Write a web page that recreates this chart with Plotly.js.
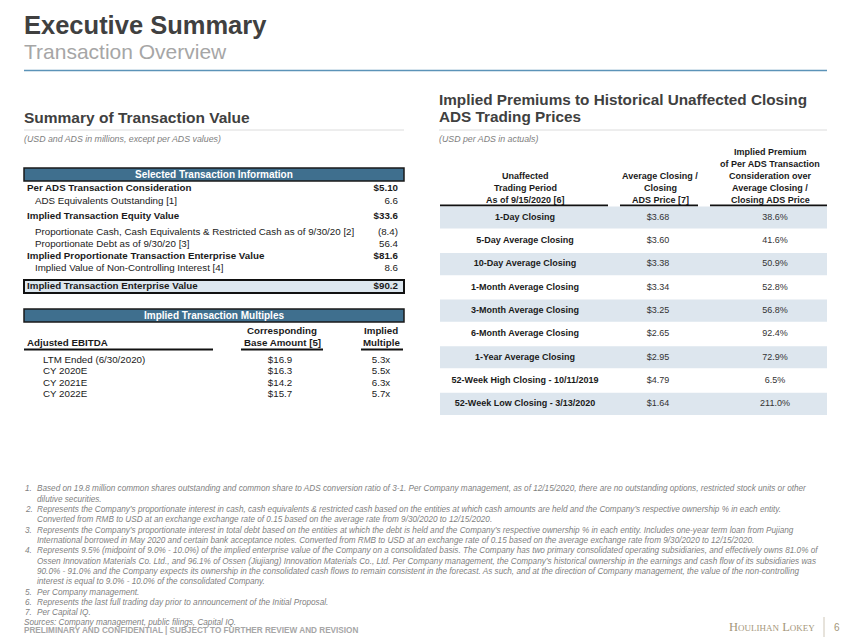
<!DOCTYPE html>
<html>
<head>
<meta charset="utf-8">
<script src="https://cdn.plot.ly/plotly-3.0.1.min.js"></script>
<style>body{margin:0;background:#fff}</style>
</head>
<body>
<div id="plot" style="width:850px;height:638px"></div>
<script>
// summary of transaction value (last row is the boxed total)
let txnLabels = [
    'Per ADS Transaction Consideration',
    'ADS Equivalents Outstanding [1]',
    'Implied Transaction Equity Value',
    'Proportionate Cash, Cash Equivalents & Restricted Cash as of 9/30/20 [2]',
    'Proportionate Debt as of 9/30/20 [3]',
    'Implied Proportionate Transaction Enterprise Value',
    'Implied Value of Non-Controlling Interest [4]',
    'Implied Transaction Enterprise Value'
]
let txnValues = ['$5.10', '6.6', '$33.6', '(8.4)', '56.4', '$81.6', '8.6', '$90.2']
let txnBold = [true, false, true, false, false, true, false, true]

// implied transaction multiples
let multPeriods = ['LTM Ended (6/30/2020)', 'CY 2020E', 'CY 2021E', 'CY 2022E']
let multBase = [16.9, 16.3, 14.2, 15.7] // adjusted EBITDA, $m
let multImplied = [5.3, 5.5, 6.3, 5.7]

// implied premiums to unaffected prices
let premPeriods = [
    '1-Day Closing',
    '5-Day Average Closing',
    '10-Day Average Closing',
    '1-Month Average Closing',
    '3-Month Average Closing',
    '6-Month Average Closing',
    '1-Year Average Closing',
    '52-Week High Closing - 10/11/2019',
    '52-Week Low Closing - 3/13/2020'
]
let premPrice = [3.68, 3.60, 3.38, 3.34, 3.25, 2.65, 2.95, 4.79, 1.64]
let premPct = [38.6, 41.6, 50.9, 52.8, 56.8, 92.4, 72.9, 6.5, 211.0]

let multHeaders = [['Adjusted EBITDA'], ['Corresponding', 'Base Amount [5]'], ['Implied', 'Multiple']]
let premHeaders = [
    ['Unaffected', 'Trading Period', 'As of 9/15/2020 [6]'],
    ['Average Closing /', 'Closing', 'ADS Price [7]'],
    ['Implied Premium', 'of Per ADS Transaction', 'Consideration over', 'Average Closing /', 'Closing ADS Price']
]

let notes = [
    ['1.', 'Based on 19.8 million common shares outstanding and common share to ADS conversion ratio of 3-1. Per Company management, as of 12/15/2020, there are no outstanding options, restricted stock units or other'],
    ['', 'dilutive securities.'],
    ['2.', 'Represents the Company\u2019s proportionate interest in cash, cash equivalents & restricted cash based on the entities at which cash amounts are held and the Company\u2019s respective ownership % in each entity.'],
    ['', 'Converted from RMB to USD at an exchange exchange rate of 0.15 based on the average rate from 9/30/2020 to 12/15/2020.'],
    ['3.', 'Represents the Company\u2019s proportionate interest in total debt based on the entities at which the debt is held and the Company\u2019s respective ownership % in each entity. Includes one-year term loan from Pujiang'],
    ['', 'International borrowed in May 2020 and certain bank acceptance notes. Converted from RMB to USD at an exchange rate of 0.15 based on the average exchange rate from 9/30/2020 to 12/15/2020.'],
    ['4.', 'Represents 9.5% (midpoint of 9.0% - 10.0%) of the implied enterprise value of the Company on a consolidated basis. The Company has two primary consolidated operating subsidiaries, and effectively owns 81.0% of'],
    ['', 'Ossen Innovation Materials Co. Ltd., and 96.1% of Ossen (Jiujiang) Innovation Materials Co., Ltd. Per Company management, the Company\u2019s historical ownership in the earnings and cash flow of its subsidiaries was'],
    ['', '90.0% - 91.0% and the Company expects its ownership in the consolidated cash flows to remain consistent in the forecast. As such, and at the direction of Company management, the value of the non-controlling'],
    ['', 'interest is equal to 9.0% - 10.0% of the consolidated Company.'],
    ['5.', 'Per Company management.'],
    ['6.', 'Represents the last full trading day prior to announcement of the Initial Proposal.'],
    ['7.', 'Per Capital IQ.']
]

// page is laid out in pixels, converted to paper fractions
let W = 850, H = 638
let FONT = 'Liberation Sans, Arial, sans-serif'
let INK = '#1a1a1a'
let TABLE_SIZE = 9.75
function px(x) { return x / W }
function py(y) { return 1 - y / H }
function dom(top, bottom) { return [py(bottom), py(top)] }

function bold(s) { return '<b>' + s + '</b>' }

function note(x, y, text, opts) {
    return Object.assign({
        xref: 'paper', yref: 'paper', x: px(x), y: py(y), text: text,
        showarrow: false, xanchor: 'left', yanchor: 'middle',
        font: {family: FONT, size: TABLE_SIZE, color: INK}
    }, opts || {})
}

function hline(x0, x1, y, color, width) {
    return {type: 'line', xref: 'paper', yref: 'paper', x0: px(x0), x1: px(x1), y0: py(y), y1: py(y),
        line: {color: color, width: width}, layer: 'below'}
}

function box(x0, x1, y0, y1, fill, lineColor, width) {
    return {type: 'rect', xref: 'paper', yref: 'paper', x0: px(x0), x1: px(x1), y0: py(y1), y1: py(y0),
        fillcolor: fill, line: {color: lineColor, width: width}, layer: 'below'}
}

function textTrace(yaxis, xs, ys, texts, pos, size, color) {
    return {
        type: 'scatter', mode: 'text', xaxis: 'x', yaxis: yaxis,
        x: xs, y: ys, text: texts, textposition: pos,
        textfont: {family: FONT, size: size, color: color},
        cliponaxis: false, hoverinfo: 'skip'
    }
}

let data = []

// --- selected transaction information (y2 in pixel rows; uneven spacing as in the source sheet)
let txnRowGap = [0, 13, 15, 16, 12, 12, 12, 18]
let txnY = []
txnRowGap.reduce((acc, g) => { txnY.push(acc + g); return acc + g }, 188.5)
data.push(textTrace('y2', txnBold.map(b => b ? 27 : 35), txnY,
    txnLabels.map((s, i) => txnBold[i] ? bold(s) : s), 'middle right', TABLE_SIZE, INK))
data.push(textTrace('y2', txnValues.map(() => 398), txnY,
    txnValues.map((s, i) => txnBold[i] ? bold(s) : s), 'middle left', TABLE_SIZE, INK))

// --- implied transaction multiples (y3)
let multY = multPeriods.map((_, i) => i)
data.push(textTrace('y3', multPeriods.map(() => 43), multY, multPeriods, 'middle right', TABLE_SIZE, INK))
data.push(textTrace('y3', multBase.map(() => 280), multY, multBase.map(v => '$' + v.toFixed(1)), 'middle center', TABLE_SIZE, INK))
data.push(textTrace('y3', multImplied.map(() => 381), multY, multImplied.map(v => v.toFixed(1) + 'x'), 'middle center', TABLE_SIZE, INK))

// --- implied premiums (y4), shaded bands on every other row
let premY = premPeriods.map((_, i) => i)
let bandY = premY.filter(i => i % 2 === 0)
data.push({
    type: 'bar', orientation: 'h', xaxis: 'x', yaxis: 'y4',
    y: bandY, x: bandY.map(() => 387), base: 440, width: 0.95,
    marker: {color: '#dde6ee', line: {width: 0}}, hoverinfo: 'skip'
})
data.push(textTrace('y4', premY.map(() => 525), premY, premPeriods.map(bold), 'middle center', 9, INK))
data.push(textTrace('y4', premY.map(() => 658), premY, premPrice.map(v => '$' + v.toFixed(2)), 'middle center', 9, '#333'))
data.push(textTrace('y4', premY.map(() => 775), premY, premPct.map(v => v.toFixed(1) + '%'), 'middle center', 9, '#333'))

// --- static text
let annotations = [
    note(22, 25, bold('Executive Summary'), {font: {family: FONT, size: 25.5, color: '#404040'}}),
    note(22, 52, 'Transaction Overview', {font: {family: FONT, size: 21, color: '#a6a6a6'}}),
    note(22, 117, bold('Summary of Transaction Value'), {font: {family: FONT, size: 15.5, color: '#404040'}}),
    note(437, 99.5, bold('Implied Premiums to Historical Unaffected Closing'), {font: {family: FONT, size: 15.3, color: '#404040'}}),
    note(437, 116.5, bold('ADS Trading Prices'), {font: {family: FONT, size: 15.3, color: '#404040'}}),
    note(22, 139, '<i>(USD and ADS in millions, except per ADS values)</i>', {font: {family: FONT, size: 8.8, color: '#808080'}}),
    note(437, 139, '<i>(USD per ADS in actuals)</i>', {font: {family: FONT, size: 8.8, color: '#808080'}}),
    note(214, 174.5, bold('Selected Transaction Information'), {xanchor: 'center', font: {family: FONT, size: 10, color: '#ffffff'}}),
    note(214, 315.5, bold('Implied Transaction Multiples'), {xanchor: 'center', font: {family: FONT, size: 10, color: '#ffffff'}})
]

// column headers, bottom-aligned
let multHeadX = [25, 282, 381]
multHeaders.forEach((lines, c) => {
    lines.forEach((s, k) => {
        let y = 342.5 - (lines.length - 1 - k) * 12
        annotations.push(note(multHeadX[c], y, bold(s), c === 0 ? {} : {xanchor: 'center'}))
    })
})
let premHeadX = [525, 660, 770]
premHeaders.forEach((lines, c) => {
    lines.forEach((s, k) => {
        let y = 199.5 - (lines.length - 1 - k) * 11.8
        annotations.push(note(premHeadX[c], y, bold(s), {xanchor: 'center', font: {family: FONT, size: 9, color: INK}}))
    })
})

// footnotes
let noteFont = {family: FONT, size: 8.2, color: '#7f7f7f', style: 'italic'}
notes.forEach((n, i) => {
    let y = 489 + i * 10.3
    if (n[0]) annotations.push(note(23, y, n[0], {font: noteFont}))
    annotations.push(note(35, y, n[1], {font: noteFont}))
})
annotations.push(note(22, 489 + notes.length * 10.3, 'Sources: Company management, public filings, Capital IQ.', {font: noteFont}))
annotations.push(note(22, 630.5, bold('PRELIMINARY AND CONFIDENTIAL | SUBJECT TO FURTHER REVIEW AND REVISION'), {font: {family: FONT, size: 8.2, color: '#a6a6a6'}}))
annotations.push(note(817, 627, 'Houlihan Lokey', {xanchor: 'right', font: {family: 'Liberation Serif, serif', size: 12.5, color: '#a4967a', variant: 'small-caps'}}))
annotations.push(note(837, 627, '6', {xanchor: 'center', font: {family: FONT, size: 10, color: '#a4967a'}}))

let shapes = [
    hline(24, 827, 70.5, '#5b93b8', 1.5),
    hline(24, 404, 130, '#dcdcdc', 1),
    hline(439, 827, 130, '#dcdcdc', 1),
    box(24, 404, 168, 181, '#3f6f8e', '#1a1a1a', 1.5),
    box(24, 404, 280, 293, '#dde7ef', '#111111', 2),
    box(24, 404, 309, 322, '#3f6f8e', '#1a1a1a', 1.5),
    hline(24, 213, 349.5, '#111111', 2),
    hline(241, 323, 349.5, '#111111', 2),
    hline(361, 403, 349.5, '#111111', 2),
    hline(440, 608, 205.5, '#111111', 2),
    hline(620, 698, 205.5, '#111111', 2),
    hline(710, 827, 205.5, '#111111', 2),
    {type: 'line', xref: 'paper', yref: 'paper', x0: px(824), x1: px(824), y0: py(617), y1: py(637),
        line: {color: '#cfc7b8', width: 1}}
]

let hidden = {visible: false, fixedrange: true}

let layout = {
    width: W,
    height: H,
    margin: {l: 0, r: 0, t: 0, b: 0},
    paper_bgcolor: '#ffffff',
    plot_bgcolor: 'rgba(0,0,0,0)',
    showlegend: false,
    hovermode: false,
    xaxis: Object.assign({range: [0, W], domain: [0, 1], anchor: 'y4'}, hidden),
    yaxis2: Object.assign({range: [300, 176], domain: dom(176, 300), anchor: 'x'}, hidden),
    yaxis3: Object.assign({range: [3.5, -0.5], domain: dom(354.5, 400.5), anchor: 'x'}, hidden),
    yaxis4: Object.assign({range: [8.5, -0.5], domain: dom(205.83, 415.5), anchor: 'x'}, hidden),
    annotations: annotations,
    shapes: shapes
}

Plotly.newPlot('plot', data, layout, {staticPlot: true, displayModeBar: false})
</script>
</body>
</html>
